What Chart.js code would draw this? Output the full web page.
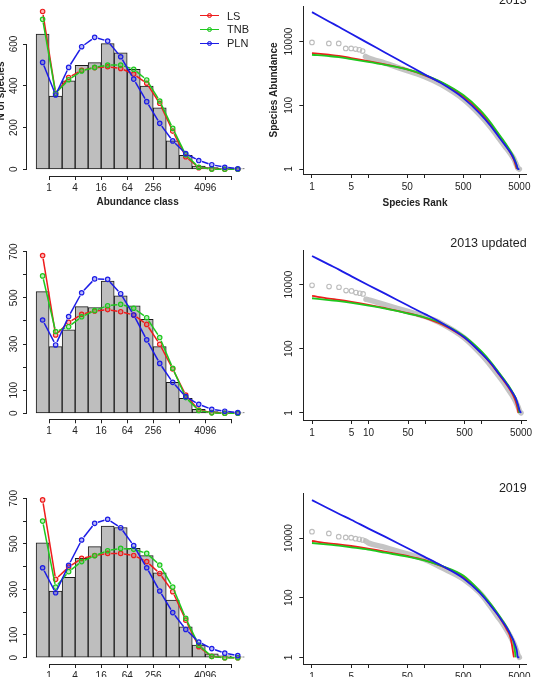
<!DOCTYPE html>
<html lang="en">
<head>
<meta charset="UTF-8">
<title>Species abundance distributions 2013 / 2013 updated / 2019</title>
<script src="https://cdn.jsdelivr.net/npm/chart.js"></script>
<style>
  html, body { margin: 0; padding: 0; background: #fff; overflow: hidden; }
  body { width: 539px; height: 677px; position: relative; }
  canvas { position: absolute; }
  #legend { position: absolute; left: 200px; top: 8.8px; font: 11px 'Liberation Sans', Arial, sans-serif; color: #222; }
  #legend .item { height: 13.8px; display: flex; align-items: center; }
  #legend .sym { position: relative; width: 19px; height: 13.8px; margin-right: 8px; }
  #legend .ln { position: absolute; left: 0; right: 0; top: 6.2px; height: 1.5px; }
  #legend .dot { position: absolute; left: 6.9px; top: 4.2px; width: 3px; height: 3px; border-radius: 50%; border: 1.2px solid; }
</style>
</head>
<body>
<canvas id="h1" width="278" height="215" style="left:-8px;top:0px"></canvas>
<canvas id="h2" width="278" height="215" style="left:-8px;top:225px"></canvas>
<canvas id="h3" width="278" height="215" style="left:-8px;top:470px"></canvas>
<canvas id="r1" width="277" height="223" style="left:262px;top:-8px"></canvas>
<canvas id="r2" width="277" height="215" style="left:262px;top:225px"></canvas>
<canvas id="r3" width="277" height="215" style="left:262px;top:470px"></canvas>
<div id="legend"></div>

<script>
// ---- abundance-class histograms (octave classes) ----
const classTicks = [1, 3, 5, 7, 9, 11, 13, 15];
const classTickLabels = ['1', '4', '16', '64', '256', '', '4096', ''];

const bars2013 = [648, 351, 424, 498, 511, 602, 558, 479, 399, 295, 136, 67, 16, 8, 5, 3];
const ls2013   = [756, 364, 440, 474, 487, 491, 483, 456, 412, 316, 183, 60, 8, 2, 0, 0];
const tnb2013  = [718, 364, 429, 471, 488, 499, 499, 479, 428, 327, 196, 69, 10, 1, 0, 0];
const pln2013  = [512, 356, 488, 587, 632, 614, 539, 432, 324, 220, 136, 75, 42, 22, 10, 3];

const bars2013u = [527, 289, 361, 462, 458, 573, 509, 465, 407, 289, 134, 65, 17, 7, 4, 3];
const ls2013u   = [683, 339, 394, 429, 443, 449, 440, 426, 385, 299, 192, 79, 14, 3, 0, 0];
const tnb2013u  = [595, 354, 375, 418, 445, 466, 472, 455, 414, 328, 195, 68, 12, 2, 0, 0];
const pln2013u  = [404, 296, 419, 522, 582, 580, 518, 426, 318, 216, 134, 72, 39, 17, 9, 3];

const bars2019 = [505, 293, 353, 436, 488, 578, 572, 480, 448, 373, 253, 136, 55, 17, 8, 4];
const ls2019   = [693, 344, 398, 436, 449, 458, 458, 449, 422, 370, 290, 165, 48, 6, 0, 0];
const tnb2019  = [600, 310, 378, 422, 448, 470, 480, 476, 458, 407, 310, 173, 55, 5, 0, 0];
const pln2019  = [395, 285, 406, 517, 590, 608, 571, 492, 395, 293, 198, 124, 69, 40, 20, 9];

const countTicksA = [0, 200, 400, 600];
const countLabelsA = ['0', '200', '400', '600'];
const countTicksB = [0, 100, 200, 300, 400, 500, 600, 700];
const countLabelsB = ['0', '100', '', '300', '', '500', '', '700'];

// ---- rank-abundance curves ----
const rankTicks = [1, 5, 10, 50, 100, 500, 1000, 5000];
const rankLabels = ['1', '5', '', '50', '', '500', '', '5000'];
const rankLabelsUpd = ['1', '5', '10', '50', '', '500', '', '5000'];
const abundTicks = [1, 100, 10000];
const abundLabels = ['1', '100', '10000'];

const fitRanks = [1, 2, 3, 5, 10, 20, 50, 100, 200, 500, 1000, 1500, 2000, 2500, 3000, 3500, 4000, 4300, 4500, 4700, 5000];
const obsRanks = [1, 2, 3, 4, 5, 6, 7, 8, 9, 10, 20, 50, 100, 200, 500, 1000, 1500, 2000, 2500, 3000, 3500, 4000, 4300, 4500, 4700, 5000];

const rkLs2013  = [4365, 3872, 3597, 3041, 2449, 1926, 1342, 891, 525, 191, 63, 26.5, 13.5, 7.7, 4.9, 3.18, 1.96, 1.3, 1, null, null];
const rkTnb2013 = [3872, 3516, 3272, 2833, 2334, 1880, 1342, 912, 550, 210, 71, 30.6, 15.2, 8.7, 5.5, 3.6, 2.3, 1.62, 1.21, 1, null];
const rkPln2013 = [84500, 43000, 29300, 17650, 9000, 4580, 1880, 957, 500, 169, 54.5, 24, 12.2, 7.2, 4.7, 3.18, 2.1, 1.58, 1.3, 1, 1];
const obs2013   = [9440, 8780, 8780, 6120, 6120, 5830, 5560, 5050, 3433, 3118, 2120, 1218, 809, 454, 157, 49.5, 21.8, 11.1, 6.5, 4.3, 2.96, 2.06, 1.54, 1.27, 1.07, 1];

const rkLs2013u  = [4443, 3672, 3338, 2891, 2333, 1837, 1285, 920, 571, 220, 73, 32.6, 16.7, 9.9, 6.3, 4.0, 2.36, 1.5, 1, null, null];
const rkTnb2013u = [3760, 3260, 3033, 2692, 2224, 1795, 1254, 942, 613, 242, 82.6, 36.7, 18.8, 11.1, 7.1, 4.6, 2.93, 2.0, 1.43, 1, null];
const rkPln2013u = [77800, 41900, 29300, 18100, 9530, 5130, 2220, 1200, 628, 225, 71.6, 33.4, 17.1, 10.4, 6.7, 4.4, 2.93, 2.05, 1.61, 1.21, 1];
const obs2013u   = [9530, 8670, 8260, 6500, 6350, 5640, 5380, 5130, 3500, 3340, 2330, 1450, 1010, 599, 215, 65, 28, 14.5, 8.6, 5.3, 3.5, 2.3, 1.73, 1.43, 1.13, 1];

const rkLs2019  = [7940, 6630, 6140, 5400, 4400, 3490, 2500, 1840, 1160, 510, 149, 60.6, 28.8, 15.2, 8.4, 4.4, 1, null, null, null, null];
const rkTnb2019 = [6810, 5990, 5540, 4880, 4080, 3230, 2380, 1790, 1190, 551, 161, 65.5, 31.9, 17.3, 10.1, 5.7, 2.86, 1, null, null, null];
const rkPln2019 = [186000, 95700, 65100, 41000, 21100, 11100, 4630, 2380, 1220, 449, 141, 57.5, 28.8, 16, 9.6, 5.7, 3.4, 2.3, 1.71, 1, 1];
const obs2019   = [16300, 14300, 11100, 10500, 10300, 9500, 9020, 8570, 7940, 6980, 4880, 2920, 1940, 1040, 426, 141, 53, 24.7, 14, 8, 4.8, 2.9, 2.05, 1.59, 1.23, 1];

// ---- panel geometry (axis ranges / box sizes) ----
const layout = {
  h1: { xMin: -0.7, xMax: 16.3, yMin: -32, yMax: 782, yAxisW: 35, xAxisH: 39, padT: 6, padR: 21.8 },
  h2: { xMin: -0.7, xMax: 16.3, yMin: -26, yMax: 737.5, yAxisW: 35, xAxisH: 20.7, padT: 18, padR: 21.8 },
  h3: { xMin: -0.7, xMax: 16.3, yMin: -27.7, yMax: 749.7, yAxisW: 35, xAxisH: 21, padT: 17, padR: 21.8 },
  r1: { xMin: 0.739, xMax: 6760, yMin: 0.712, yMax: 131500, yAxisW: 41.3, xAxisH: 41, padR: 12.3, tT: 2.25, tB: -0.75 },
  r2: { xMin: 0.741, xMax: 6303, yMin: 0.619, yMax: 120000, yAxisW: 41.3, xAxisH: 20, padR: 12.3, tT: 12.75, tB: -0.25 },
  r3: { xMin: 0.739, xMax: 6760, yMin: 0.616, yMax: 315000, yAxisW: 41.3, xAxisH: 21, padR: 12.3, tT: 12.05, tB: -1.25 }
};

const RED = '#ee1c1c', GREEN = '#1ec81e', BLUE = '#1c1ce6';
const RED_F = 'rgba(238,28,28,0.3)', GREEN_F = 'rgba(30,200,30,0.3)', BLUE_F = 'rgba(28,28,230,0.3)';
const AXIS = '#222';
const GAP = 3.4; // R type="b": line stops short of each point

Chart.defaults.font.family = "'Liberation Sans', Arial, Helvetica, sans-serif";
Chart.defaults.color = '#222';
Chart.defaults.animation = false;
Chart.defaults.plugins.legend.display = false;
Chart.defaults.plugins.tooltip.enabled = false;

// R style axis line: only from first to last tick
const rAxisLine = {
  id: 'rAxisLine',
  afterDraw(chart) {
    const { ctx, scales: { x, y } } = chart;
    const xt = x.ticks, yt = y.ticks;
    ctx.save();
    ctx.strokeStyle = AXIS;
    ctx.lineWidth = 1;
    ctx.beginPath();
    const by = Math.round(x.top) + 0.5;
    ctx.moveTo(x.getPixelForValue(xt[0].value), by);
    ctx.lineTo(x.getPixelForValue(xt[xt.length - 1].value), by);
    const lx = Math.round(y.right) - 0.5;
    ctx.moveTo(lx, y.getPixelForValue(yt[0].value));
    ctx.lineTo(lx, y.getPixelForValue(yt[yt.length - 1].value));
    ctx.stroke();
    ctx.restore();
  }
};

function histChart(id, bars, ls, tnb, pln, yTicks, yLabels, xTitle, yTitle) {
  const g = layout[id];
  const pts = arr => arr.map((v, i) => ({ x: i + 0.5, y: v }));
  const line = (label, arr, color, fill, order) => ({
    type: 'line', label, data: pts(arr), borderColor: color, borderWidth: 1.5,
    pointRadius: 2.2, pointBorderWidth: 1.2, pointBorderColor: color, pointBackgroundColor: fill, order,
    segment: {
      borderDash: c => {
        const len = Math.hypot(c.p1.x - c.p0.x, c.p1.y - c.p0.y);
        return [0, GAP, Math.max(len - 2 * GAP, 0), 1000 + c.p0DataIndex];
      }
    }
  });
  return new Chart(document.getElementById(id), {
    type: 'line',
    data: {
      datasets: [
        line('PLN', pln, BLUE, BLUE_F, 1),
        line('TNB', tnb, GREEN, GREEN_F, 2),
        line('LS', ls, RED, RED_F, 3),
        { type: 'bar', label: 'observed', data: pts(bars), backgroundColor: '#bebebe', borderColor: '#1a1a1a',
          borderWidth: 1, borderSkipped: false, barPercentage: 1, categoryPercentage: 1, order: 4 }
      ]
    },
    options: {
      responsive: false,
      layout: { padding: { left: 0, right: g.padR, top: g.padT, bottom: 0 } },
      scales: {
        x: {
          type: 'linear', min: g.xMin, max: g.xMax, offset: false,
          afterBuildTicks: s => { s.ticks = classTicks.map(v => ({ value: v })); },
          afterFit: s => { s.height = g.xAxisH; },
          grid: { drawOnChartArea: false, offset: false, tickLength: 4, color: AXIS },
          border: { display: false },
          ticks: { autoSkip: false, maxRotation: 0, padding: 2, font: { size: 10 }, callback: (v, i) => classTickLabels[i] },
          title: xTitle ? { display: true, text: xTitle, font: { size: 10, weight: 'bold' }, padding: { top: 0, bottom: 7 } } : { display: false }
        },
        y: {
          type: 'linear', min: g.yMin, max: g.yMax,
          afterBuildTicks: s => { s.ticks = yTicks.map(v => ({ value: v })); },
          afterFit: s => { s.width = g.yAxisW; },
          grid: { drawOnChartArea: false, tickLength: 4, color: AXIS },
          border: { display: false },
          ticks: { autoSkip: false, minRotation: 90, maxRotation: 90, crossAlign: 'center', padding: 0,
                   font: { size: 10 }, callback: (v, i) => yLabels[i] },
          title: yTitle ? { display: true, text: yTitle, font: { size: 10, weight: 'bold' }, padding: { top: 3, bottom: 0 } } : { display: false }
        }
      }
    },
    plugins: [rAxisLine]
  });
}

function rankChart(id, title, obs, ls, tnb, pln, xLabels, xTitle, yTitle) {
  const g = layout[id];
  const fit = vals => fitRanks.map((r, i) => ({ x: r, y: vals[i] })).filter(p => p.y !== null);
  const obsPts = obsRanks.map((r, i) => ({ x: r, y: obs[i] }));
  const curve = (label, vals, color, order) => ({
    label, data: fit(vals), borderColor: color, borderWidth: 1.8, pointRadius: 0,
    cubicInterpolationMode: 'monotone', order
  });
  return new Chart(document.getElementById(id), {
    type: 'line',
    data: {
      datasets: [
        curve('PLN', pln, BLUE, 1),
        curve('TNB', tnb, GREEN, 2),
        curve('LS', ls, RED, 3),
        { label: 'observed', data: obsPts.slice(0, 8), showLine: false, pointRadius: 2.3,
          pointBorderColor: '#bdbdbd', pointBackgroundColor: 'rgba(0,0,0,0)', pointBorderWidth: 1.1, order: 4 },
        { label: 'observed band', data: obsPts.slice(8), borderColor: 'rgba(190,190,190,0.9)', borderWidth: 5.5,
          borderCapStyle: 'round', pointRadius: 0, cubicInterpolationMode: 'monotone', order: 5 }
      ]
    },
    options: {
      responsive: false,
      layout: { padding: { left: 0, right: g.padR, top: 0, bottom: 0 } },
      plugins: {
        title: { display: true, text: title, align: 'end', color: '#222',
                 font: { size: 12.5, weight: 'normal', lineHeight: 1 }, padding: { top: g.tT, bottom: g.tB } }
      },
      scales: {
        x: {
          type: 'logarithmic', min: g.xMin, max: g.xMax,
          afterBuildTicks: s => { s.ticks = rankTicks.map(v => ({ value: v })); },
          afterFit: s => { s.height = g.xAxisH; },
          grid: { drawOnChartArea: false, tickLength: 4, color: AXIS },
          border: { display: true, color: AXIS, width: 1 },
          ticks: { autoSkip: false, maxRotation: 0, padding: 3, font: { size: 10 }, callback: (v, i) => xLabels[i] },
          title: xTitle ? { display: true, text: xTitle, font: { size: 10, weight: 'bold' }, padding: { top: 0, bottom: 6 } } : { display: false }
        },
        y: {
          type: 'logarithmic', min: g.yMin, max: g.yMax,
          afterBuildTicks: s => { s.ticks = abundTicks.map(v => ({ value: v })); },
          afterFit: s => { s.width = g.yAxisW; },
          grid: { drawOnChartArea: false, tickLength: 4, color: AXIS },
          border: { display: true, color: AXIS, width: 1 },
          ticks: { autoSkip: false, minRotation: 90, maxRotation: 90, crossAlign: 'center', padding: -3.9,
                   font: { size: 10 }, callback: (v, i) => abundLabels[i] },
          title: yTitle ? { display: true, text: yTitle, font: { size: 10, weight: 'bold' }, padding: { top: 6, bottom: 0 } } : { display: false }
        }
      }
    }
  });
}

const h1 = histChart('h1', bars2013, ls2013, tnb2013, pln2013, countTicksA, countLabelsA, 'Abundance class', 'N of species');
histChart('h2', bars2013u, ls2013u, tnb2013u, pln2013u, countTicksB, countLabelsB, null, null);
histChart('h3', bars2019, ls2019, tnb2019, pln2019, countTicksB, countLabelsB, null, null);

rankChart('r1', '2013', obs2013, rkLs2013, rkTnb2013, rkPln2013, rankLabels, 'Species Rank', 'Species Abundance');
rankChart('r2', '2013 updated', obs2013u, rkLs2013u, rkTnb2013u, rkPln2013u, rankLabelsUpd, null, null);
rankChart('r3', '2019', obs2019, rkLs2019, rkTnb2019, rkPln2019, rankLabels, null, null);

// legend built from the first histogram's line datasets
const legendEl = document.getElementById('legend');
['LS', 'TNB', 'PLN'].forEach(name => {
  const ds = h1.data.datasets.find(d => d.label === name);
  const item = document.createElement('div');
  item.className = 'item';
  item.innerHTML = '<span class="sym"><span class="ln" style="background:' + ds.borderColor + '"></span>' +
    '<span class="dot" style="border-color:' + ds.borderColor + ';background:' + ds.pointBackgroundColor + '"></span></span>' +
    '<span>' + ds.label + '</span>';
  legendEl.appendChild(item);
});
</script>
</body>
</html>
